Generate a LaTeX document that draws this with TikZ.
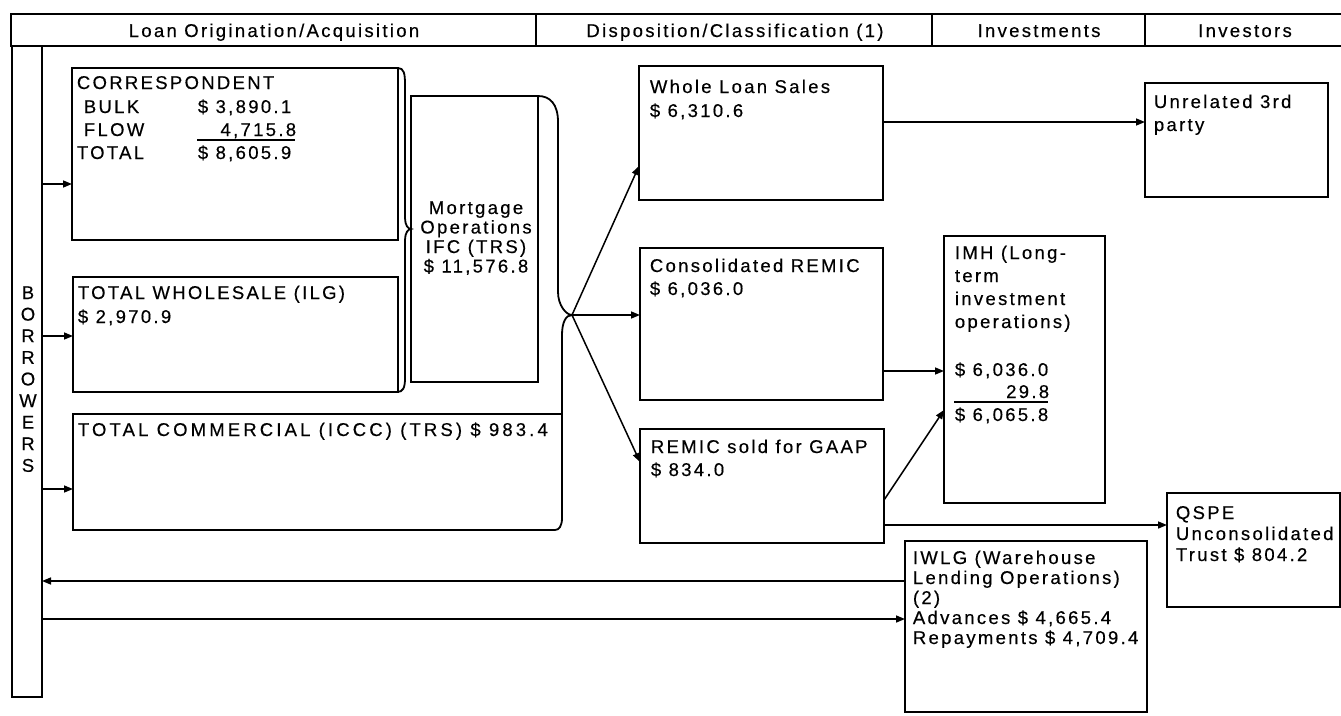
\documentclass[tikz,border=0pt]{standalone}
\usepackage{fontspec}
\setmainfont{Liberation Sans}[LetterSpace=12.5,FakeBold=0.4]
\usetikzlibrary{arrows.meta}
\newcommand\boxfont{\fontsize{18.5}{23}\selectfont}
\begin{document}
\begin{tikzpicture}[x=1pt,y=-1pt,
  line width=1.8pt,
  box/.style={draw, line width=1.8pt, inner sep=0pt, outer sep=0pt, anchor=north west},
  hcell/.style={box, minimum height=32pt},
  txt/.style={inner sep=0pt, anchor=base west, font=\boxfont},
  txr/.style={inner sep=0pt, anchor=base east, font=\boxfont},
  txc/.style={inner sep=0pt, anchor=base, font=\boxfont},
  arr/.style={-{Triangle[length=9pt,width=7pt]}, line width=1.5pt},
  ln/.style={line width=1.5pt}]
\useasboundingbox (0,0) rectangle (1341,715);

% header
\node[hcell, minimum width=525pt] (h1) at (11,14) {};
\node[hcell, minimum width=396pt] (h2) at (536,14) {};
\node[hcell, minimum width=213pt] (h3) at (932,14) {};
\node[hcell, minimum width=210pt] (h4) at (1145,14) {};
\node[txc] (h1t) at (274,37) {Loan Origination/Acquisition};
\node[txc] (h2t) at (735,37) {Disposition/Classification (1)};
\node[txc] (h3t) at (1039,37) {Investments};
\node[txc] (h4t) at (1245,37) {Investors};

% borrowers bar
\node[box, minimum width=30pt, minimum height=651pt] (bar) at (12,46) {};
\foreach \l [count=\i] in {B,O,R,R,O,W,E,R,S}
  \node[txc] (b\i) at (28,{299+21.6*(\i-1)}) {\l};

% boxes
\node[box, minimum width=326pt, minimum height=172pt] (corr) at (72,68) {};
\node[box, minimum width=325pt, minimum height=115pt] (whole) at (73,277) {};
\node[box, draw=none, minimum width=489pt, minimum height=116pt] (comm) at (73,414) {};
\draw (562,414) -- (73,414) -- (73,530) -- (555,530);
\node[box, minimum width=127pt, minimum height=286pt] (mort) at (411,96) {};
\node[box, minimum width=244pt, minimum height=134pt] (wls) at (639,66) {};
\node[box, minimum width=183pt, minimum height=114pt] (unrel) at (1145,83) {};
\node[box, minimum width=243pt, minimum height=152pt] (consol) at (640,248) {};
\node[box, minimum width=244pt, minimum height=114pt] (sold) at (640,429) {};
\node[box, minimum width=161pt, minimum height=267pt] (imh) at (944,236) {};
\node[box, minimum width=173pt, minimum height=114pt] (qspe) at (1167,493) {};
\node[box, minimum width=242pt, minimum height=171pt] (iwlg) at (905,541) {};

% braces
\draw (398,68) .. controls (404,68) and (405,74) .. (405,84) -- (405,218)
  .. controls (405,225) and (408,229) .. (411,229)
  .. controls (408,229) and (405,233) .. (405,240) -- (405,378)
  .. controls (405,388) and (403,392) .. (397,392);
\coordinate (tip2) at (572,315);
\draw (538,96) .. controls (550,96) and (558,104) .. (558,122) -- (558,292)
  .. controls (558,305) and (566,315) .. (tip2)
  .. controls (566,315) and (562,322) .. (562,335) -- (562,518)
  .. controls (562,526) and (559,530) .. (555,530);

% texts
\node[txt] (c1) at (76,89) {CORRESPONDENT};
\node[txt] (c2) at (83,113) {BULK};
\node[txt] (c3) at (197,113) {\$ 3,890.1};
\node[txt] (c4) at (83,136) {FLOW};
\node[txr] (c5) at (297,136) {4,715.8};
\node[txt] (c6) at (76,159) {TOTAL};
\node[txt] (c7) at (197,159) {\$ 8,605.9};
\draw[ln] (197,140) -- (295,140);

\node[txt] (w1) at (77,299) {TOTAL WHOLESALE (ILG)};
\node[txt] (w2) at (77,323) {\$ 2,970.9};
\node[txt] (m1) at (77,436) {\addfontfeature{LetterSpace=17}TOTAL COMMERCIAL (ICCC) (TRS) \$ 983.4};

\node[txc] (o1) at (476,214) {Mortgage};
\node[txc] (o2) at (476,233.5) {Operations};
\node[txc] (o3) at (476,253) {IFC (TRS)};
\node[txc] (o4) at (476,272.5) {\$ 11,576.8};

\node[txt] (s1) at (649,93) {Whole Loan Sales};
\node[txt] (s2) at (649,117) {\$ 6,310.6};
\node[txt] (u1) at (1153,108) {Unrelated 3rd};
\node[txt] (u2) at (1153,131) {party};
\node[txt] (r1) at (649,272) {Consolidated REMIC};
\node[txt] (r2) at (649,295) {\$ 6,036.0};
\node[txt] (g1) at (650,453) {REMIC sold for GAAP};
\node[txt] (g2) at (650,476) {\$ 834.0};

\node[txt] (i1) at (954,259) {IMH (Long-};
\node[txt] (i2) at (954,282) {term};
\node[txt] (i3) at (954,305) {investment};
\node[txt] (i4) at (954,328) {operations)};
\node[txt] (i5) at (954,376) {\$ 6,036.0};
\node[txr] (i6) at (1050,398) {29.8};
\draw[ln] (954,402) -- (1048,402);
\node[txt] (i7) at (954,421) {\$ 6,065.8};

\node[txt] (q1) at (1175,519) {QSPE};
\node[txt] (q2) at (1175,540) {Unconsolidated};
\node[txt] (q3) at (1175,561) {Trust \$ 804.2};

\node[txt] (l1) at (912,564) {IWLG (Warehouse};
\node[txt] (l2) at (912,584) {Lending Operations)};
\node[txt] (l3) at (912,604) {(2)};
\node[txt] (l4) at (912,624) {Advances \$ 4,665.4};
\node[txt] (l5) at (912,644) {Repayments \$ 4,709.4};

% arrows
\coordinate (k1) at (0,184);
\coordinate (k2) at (0,336);
\coordinate (k3) at (0,489);
\coordinate (k4) at (0,581);
\coordinate (k5) at (0,619);
\coordinate (k6) at (0,166);
\coordinate (k7) at (0,462);
\coordinate (k8) at (0,122);
\coordinate (k9) at (0,371);
\coordinate (k10) at (0,500);
\coordinate (k11) at (0,410);
\coordinate (k12) at (0,525);
\draw[arr] (bar.east |- k1) -- (corr.west |- k1);
\draw[arr] (bar.east |- k2) -- (whole.west |- k2);
\draw[arr] (bar.east |- k3) -- (comm.west |- k3);
\draw[arr] (iwlg.west |- k4) -- (bar.east |- k4);
\draw[arr] (bar.east |- k5) -- (iwlg.west |- k5);
\draw[arr] (tip2) -- (wls.west |- k6);
\draw[arr] (tip2) -- (consol.west |- tip2);
\draw[arr] (tip2) -- (sold.west |- k7);
\draw[arr] (wls.east |- k8) -- (unrel.west |- k8);
\draw[arr] (consol.east |- k9) -- (imh.west |- k9);
\draw[arr] (sold.east |- k10) -- (imh.west |- k11);
\draw[arr] (sold.east |- k12) -- (qspe.west |- k12);
\end{tikzpicture}
\end{document}
